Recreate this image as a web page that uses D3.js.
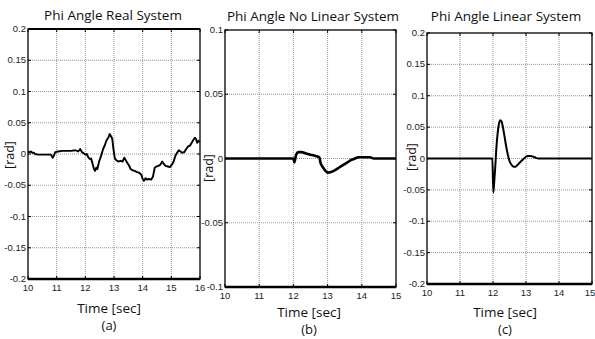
<!DOCTYPE html>
<html>
<head>
<meta charset="utf-8">
<script src="https://cdn.jsdelivr.net/npm/d3@7"></script>
<style>
  body { margin: 0; background: #fff; }
  svg { display: block; }
  .tick-label { font-family: "Liberation Sans Narrow", "Arial Narrow", sans-serif; font-size: 9.5px; fill: #222; }
  .title, .xlabel, .ylabel, .sub { font-family: "Open Sans", "Noto Sans", sans-serif; fill: #111; }
</style>
</head>
<body>
<div id="chart"></div>
<script>
// (a) real system
const realT = [10.00,10.05,10.10,10.15,10.20,10.25,10.35,10.50,10.65,10.80,10.86,10.90,10.95,11.05,11.20,11.35,11.50,11.65,11.75,11.82,11.88,11.95,12.00,12.05,12.10,12.15,12.20,12.25,12.30,12.34,12.38,12.42,12.48,12.55,12.62,12.68,12.74,12.80,12.85,12.90,12.94,12.98,13.03,13.08,13.15,13.22,13.30,13.36,13.40,13.46,13.52,13.58,13.64,13.72,13.80,13.88,13.95,14.00,14.04,14.10,14.16,14.22,14.30,14.36,14.42,14.48,14.55,14.62,14.68,14.74,14.80,14.88,14.95,15.02,15.08,15.14,15.20,15.26,15.32,15.38,15.45,15.52,15.58,15.64,15.70,15.76,15.82,15.86,15.90,15.95,16.00];
const realPhi = [0.004,0.003,0.004,0.002,0.002,0.000,-0.001,-0.001,-0.001,-0.001,-0.006,-0.003,0.003,0.004,0.005,0.005,0.005,0.006,0.004,0.008,0.003,0.001,-0.001,0.000,-0.005,-0.008,-0.007,-0.015,-0.024,-0.027,-0.022,-0.024,-0.012,-0.003,0.008,0.014,0.022,0.026,0.032,0.028,0.024,0.008,-0.007,-0.010,-0.012,-0.011,-0.012,-0.006,-0.009,-0.014,-0.018,-0.024,-0.026,-0.027,-0.029,-0.030,-0.033,-0.040,-0.043,-0.039,-0.041,-0.040,-0.041,-0.036,-0.022,-0.020,-0.019,-0.017,-0.012,-0.016,-0.019,-0.020,-0.021,-0.017,-0.012,-0.003,0.002,0.006,0.004,0.002,0.003,0.008,0.012,0.013,0.017,0.022,0.026,0.024,0.018,0.021,0.019];

// (b) non linear system
const nonlinT = [10,12.00,12.03,12.08,12.15,12.24,12.35,12.50,12.65,12.76,12.79,12.84,12.92,13.00,13.10,13.22,13.34,13.46,13.58,13.70,13.80,13.90,14.10,14.24,14.35,15];
const nonlinPhi = [0,0,-0.003,0.003,0.005,0.005,0.004,0.003,0.002,0.001,-0.003,-0.006,-0.009,-0.011,-0.0105,-0.009,-0.007,-0.005,-0.003,-0.001,0,0.001,0.001,0.001,0,0];

// (c) linear system
const linT = [10,11.98,12.01,12.04,12.07,12.10,12.14,12.18,12.22,12.26,12.30,12.35,12.40,12.45,12.50,12.56,12.62,12.68,12.75,12.82,12.90,12.98,13.06,13.14,13.22,13.30,13.38,15];
const linPhi = [0,0,-0.054,-0.035,-0.012,0.015,0.040,0.055,0.061,0.059,0.050,0.035,0.019,0.006,-0.004,-0.010,-0.013,-0.013,-0.010,-0.006,-0.002,0.002,0.004,0.004,0.003,0.001,0,0];

// ticks
const xTicks6 = [10,11,12,13,14,15,16];
const xTicks5 = [10,11,12,13,14,15];
const yTicks02 = [0.2,0.15,0.1,0.05,0,-0.05,-0.1,-0.15,-0.2];
const yTicks01 = [0.1,0.05,0,-0.05,-0.1];

const titles = ["Phi Angle Real System", "Phi Angle No Linear System", "Phi Angle  Linear System"];
const subs = ["(a)", "(b)", "(c)"];

const svg = d3.select("#chart").append("svg")
  .attr("width", 595).attr("height", 339);

function fmt(v) { return v === 0 ? "0" : String(v); }

function panel(p) {
  const x = d3.scaleLinear().domain(p.xDom).range([p.left, p.right]);
  const y = d3.scaleLinear().domain(p.yDom).range([p.bottom, p.top]);
  const g = svg.append("g");

  // grid
  g.selectAll(".vg").data(p.xTicks.slice(1, -1)).join("line")
    .attr("x1", d => x(d)).attr("x2", d => x(d))
    .attr("y1", p.top).attr("y2", p.bottom)
    .attr("stroke", "#8a8a8a").attr("stroke-width", 0.9).attr("stroke-dasharray", "1,1");
  g.selectAll(".hg").data(p.yTicks.slice(1, -1)).join("line")
    .attr("x1", p.left).attr("x2", p.right)
    .attr("y1", d => y(d)).attr("y2", d => y(d))
    .attr("stroke", "#8a8a8a").attr("stroke-width", 0.9).attr("stroke-dasharray", "1,1");

  // inward ticks on all sides
  const tl = 3;
  p.xTicks.forEach(t => {
    g.append("line").attr("x1", x(t)).attr("x2", x(t)).attr("y1", p.bottom).attr("y2", p.bottom - tl).attr("stroke", "#000");
    g.append("line").attr("x1", x(t)).attr("x2", x(t)).attr("y1", p.top).attr("y2", p.top + tl).attr("stroke", "#000");
  });
  p.yTicks.forEach(t => {
    g.append("line").attr("x1", p.left).attr("x2", p.left + tl).attr("y1", y(t)).attr("y2", y(t)).attr("stroke", "#000");
    g.append("line").attr("x1", p.right).attr("x2", p.right - tl).attr("y1", y(t)).attr("y2", y(t)).attr("stroke", "#000");
  });

  // data line
  const line = d3.line().x((d, i) => x(p.t[i])).y(d => y(d)).curve(p.curve);
  g.append("path").datum(p.v)
    .attr("fill", "none").attr("stroke", "#000")
    .attr("stroke-width", p.lw).attr("stroke-linejoin", "round")
    .attr("d", line);

  // frame
  g.append("rect").attr("x", p.left).attr("y", p.top)
    .attr("width", p.right - p.left).attr("height", p.bottom - p.top)
    .attr("fill", "none").attr("stroke", "#000").attr("stroke-width", 1.3);
  g.append("line").attr("x1", p.left).attr("x2", p.right)
    .attr("y1", p.bottom).attr("y2", p.bottom)
    .attr("stroke", "#000").attr("stroke-width", 2.4);
  if (p.thickTop) {
    g.append("line").attr("x1", p.left).attr("x2", p.right)
      .attr("y1", p.top).attr("y2", p.top)
      .attr("stroke", "#000").attr("stroke-width", 2);
  }

  // tick labels
  g.selectAll(".xl").data(p.xTicks).join("text")
    .attr("class", "tick-label")
    .attr("x", d => Math.min(x(d), 590)).attr("y", p.bottom + 12)
    .attr("text-anchor", "middle").text(d => d);
  g.selectAll(".yl").data(p.yTicks).join("text")
    .attr("class", "tick-label")
    .attr("x", p.left - 2).attr("y", d => y(d) + 3)
    .attr("text-anchor", "end").text(fmt);

  // titles/labels
  g.append("text").attr("class", "title").attr("x", p.titleX).attr("y", p.titleY)
    .attr("text-anchor", "middle").attr("font-size", 13.5).text(p.title);
  g.append("text").attr("class", "xlabel").attr("x", p.labX).attr("y", p.labY)
    .attr("text-anchor", "middle").attr("font-size", 13.5).text("Time [sec]");
  g.append("text").attr("class", "sub").attr("x", p.labX).attr("y", p.labY + p.subGap)
    .attr("text-anchor", "middle").attr("font-size", 13).text(p.sub);
  g.append("text").attr("class", "ylabel")
    .attr("transform", `translate(${p.radX},${p.radY}) rotate(-90)`)
    .attr("text-anchor", "middle").attr("font-size", 12.5).text("[rad]");
}

panel({ left: 28, right: 200, top: 29, bottom: 279, xDom: [10, 16], yDom: [-0.2, 0.2],
  xTicks: xTicks6, yTicks: yTicks02, t: realT, v: realPhi, lw: 1.9, curve: d3.curveLinear, thickTop: true,
  title: titles[0], titleX: 113, titleY: 20, labX: 109, labY: 313, subGap: 17, sub: subs[0], radX: 14, radY: 155 });

panel({ left: 225, right: 396, top: 30, bottom: 287, xDom: [10, 15], yDom: [-0.1, 0.1],
  xTicks: xTicks5, yTicks: yTicks01, t: nonlinT, v: nonlinPhi, lw: 2.6, curve: d3.curveMonotoneX, thickTop: false,
  title: titles[1], titleX: 313, titleY: 21, labX: 309, labY: 317, subGap: 17, sub: subs[1], radX: 213, radY: 168 });

panel({ left: 427, right: 592, top: 33, bottom: 284, xDom: [10, 15], yDom: [-0.2, 0.2],
  xTicks: xTicks5, yTicks: yTicks02, t: linT, v: linPhi, lw: 2, curve: d3.curveMonotoneX, thickTop: false,
  title: titles[2], titleX: 506, titleY: 21, labX: 505, labY: 317, subGap: 17, sub: subs[2], radX: 416, radY: 157 });
</script>
</body>
</html>
